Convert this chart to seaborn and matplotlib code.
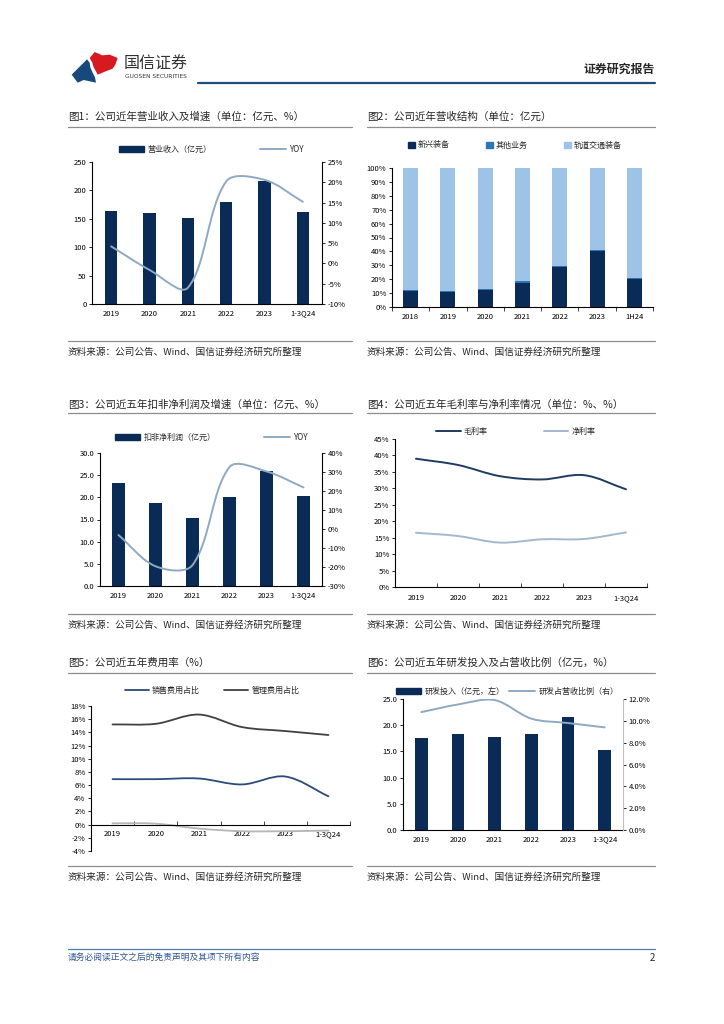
import numpy as np
import pandas as pd
import matplotlib
matplotlib.use("Agg")
import matplotlib.pyplot as plt
import seaborn as sns
from matplotlib.path import Path
from matplotlib.patches import PathPatch, Polygon, Patch
from matplotlib.lines import Line2D
from matplotlib.ticker import FuncFormatter


# 数据

years = ["2019", "2020", "2021", "2022", "2023", "1-3Q24"]

revenue = [163, 160, 151, 180, 217, 162]
revenue_yoy = [4.2, -1.6, -6.0, 20.2, 20.6, 15.2]

struct_years = ["2018", "2019", "2020", "2021", "2022", "2023", "1H24"]
struct_new = [11.5, 11.0, 12.0, 17.0, 28.5, 40.0, 20.5]
struct_other = [0.5, 0.7, 1.0, 1.5, 1.0, 1.0, 0.5]
struct_rail = [88.0, 88.3, 87.0, 81.5, 70.5, 59.0, 79.0]

profit = [23.3, 18.7, 15.3, 20.0, 26.0, 20.4]
profit_yoy = [-3.2, -19.6, -19.0, 32.6, 30.3, 21.9]

gross_margin = [39.0, 37.1, 33.7, 32.7, 34.0, 29.7]
net_margin = [16.5, 15.5, 13.5, 14.5, 14.6, 16.6]

sales_ratio = [6.9, 6.9, 7.0, 6.1, 7.3, 4.3]
admin_ratio = [15.2, 15.3, 16.7, 14.8, 14.2, 13.6]
fin_ratio = [0.2, 0.15, -0.6, -1.0, -1.0, -0.9]

rd = [17.5, 18.4, 17.7, 18.4, 21.5, 15.3]
rd_ratio = [10.8, 11.5, 11.9, 10.2, 9.8, 9.4]


# 样式

NAVY = "#0b2b57"
MID = "#2e75b6"
LIGHT = "#9dc3e6"
YOY = "#8fa9c3"
W, H = 724, 1024
FS_TICK = 5.5
FS_LEG = 5.8

sns.set_theme(style="white")
plt.rcParams["font.family"] = ["Noto Sans CJK SC", "DejaVu Sans"]
plt.rcParams["axes.unicode_minus"] = False


def box(l, t, r, b):
    return [l / W, 1 - b / H, (r - l) / W, (b - t) / H]


def smooth_line(ax, y, color, lw=1.4):
    # 平滑曲线 (贝塞尔, 按屏幕弦长缩放切线), 经过每个数据点
    pos = ax.get_position()
    x0, x1 = ax.get_xlim()
    y0, y1 = ax.get_ylim()
    sx = pos.width * W / (x1 - x0)
    sy = pos.height * H / (y1 - y0)
    p = np.column_stack([np.arange(len(y)), y]).astype(float)
    s = p * [sx, sy]
    ext = np.vstack([s[0], s, s[-1]])
    d = np.hypot(*np.diff(ext, axis=0).T)
    verts = [tuple(p[0])]
    codes = [Path.MOVETO]

    def tangent(i):
        return (ext[i + 2] - ext[i]), d[i], d[i + 1]

    for i in range(len(s) - 1):
        t1, a1, b1 = tangent(i)
        t2, a2, b2 = tangent(i + 1)
        seg = b1
        c1 = s[i] + t1 * seg / (a1 + b1) / 3
        c2 = s[i + 1] - t2 * seg / (a2 + b2) / 3
        verts += [tuple(c1 / [sx, sy]), tuple(c2 / [sx, sy]), tuple(p[i + 1])]
        codes += [Path.CURVE4] * 3
    ax.add_patch(PathPatch(Path(verts, codes), fill=False,
                           edgecolor=color, lw=lw, capstyle="round"))


def style(ax, spines=("left", "bottom")):
    for name, sp in ax.spines.items():
        sp.set_visible(name in spines)
        sp.set_color("black")
        sp.set_linewidth(0.8)
    ax.tick_params(labelsize=FS_TICK, length=2, width=0.6, pad=2,
                   left="left" in spines, right="right" in spines,
                   bottom=False, colors="black")
    ax.set_xlabel("")
    ax.set_ylabel("")


def pct(fmt):
    return FuncFormatter(lambda v, _: fmt % v + "%")


def boundary_ticks(ax, n, direction="out"):
    ax.set_xticks(np.arange(-0.5, n, 1), minor=True)
    ax.tick_params(axis="x", which="minor", bottom=True, length=3,
                   width=0.6, direction=direction)
    ax.tick_params(axis="x", which="major", length=0)


def legend(fig, handles, cx, cy, **kw):
    opts = dict(loc="center", ncol=len(handles), frameon=False,
                fontsize=FS_LEG, handlelength=3.2, handleheight=0.8,
                columnspacing=6, handletextpad=0.4, borderpad=0)
    opts.update(kw)
    fig.legend(handles=handles, bbox_to_anchor=(cx / W, 1 - cy / H), **opts)


BAR = dict(saturation=1, linewidth=0, edgecolor="none")

fig = plt.figure(figsize=(7.24, 10.24), dpi=100)

bg = fig.add_axes([0, 0, 1, 1], zorder=-5)
bg.set_xlim(0, W)
bg.set_ylim(H, 0)
bg.axis("off")


# 页眉 (logo)

def logo_pts(pts):
    return [(63 + zx / 3, 48 + zy / 3) for zx, zy in pts]


blue_shape = [(26, 80), (72, 34), (80, 44), (82, 58), (88, 72), (96, 88),
              (99, 104), (62, 96), (44, 104)]
red_shape = [(80, 30), (95, 12), (118, 22), (140, 20), (164, 30), (157, 50),
             (149, 62), (133, 68), (104, 80), (100, 72), (92, 58), (88, 44)]
bg.add_patch(Polygon(logo_pts(blue_shape), closed=True, color="#17497f", lw=0))
bg.add_patch(Polygon(logo_pts(red_shape), closed=True, color="#d71920", lw=0))
bg.text(124, 64, "国信证券", fontsize=11.5, color="#333333", va="center")
bg.text(125, 77, "GUOSEN SECURITIES", fontsize=4.2, color="#333333",
        va="center", family="DejaVu Sans")
bg.text(655, 69, "证券研究报告", fontsize=8.6, fontweight="bold", ha="right", va="center")
bg.plot([198, 655], [83, 83], color="#1f4e79", lw=1.6)


# 标题与来源

titles = [
    (68, 117, 352, 127, "图1：公司近年营业收入及增速（单位：亿元、%）"),
    (367, 117, 655, 127, "图2：公司近年营收结构（单位：亿元）"),
    (68, 405, 352, 413, "图3：公司近五年扣非净利润及增速（单位：亿元、%）"),
    (367, 405, 655, 413, "图4：公司近五年毛利率与净利率情况（单位：%、%）"),
    (68, 663, 352, 673, "图5：公司近五年费用率（%）"),
    (367, 663, 655, 673, "图6：公司近五年研发投入及占营收比例（亿元，%）"),
]
for l, ty, r, ly, txt in titles:
    bg.text(l, ty, txt, fontsize=7.6, va="center")
    bg.plot([l, r], [ly, ly], color="#8c8c8c", lw=0.9)

source = "资料来源：公司公告、Wind、国信证券经济研究所整理"
for ly, ty in [(341, 352), (614, 625), (866, 877)]:
    for l, r in [(68, 352), (367, 655)]:
        bg.plot([l, r], [ly, ly], color="#8c8c8c", lw=0.9)
        bg.text(l, ty, source, fontsize=6.9, va="center")


# 图1

ax = fig.add_axes(box(92, 162, 322, 304))
sns.barplot(x=years, y=revenue, color=NAVY, width=0.33, ax=ax, **BAR)
ax.set_xlim(-0.5, 5.5)
ax.set_ylim(0, 250)
ax.set_yticks(np.arange(0, 251, 50))
style(ax)
ax.tick_params(axis="x", length=0, pad=4)
ax2 = ax.twinx()
ax2.set_ylim(-10, 25)
smooth_line(ax2, revenue_yoy, YOY)
ax2.set_yticks(np.arange(-10, 26, 5))
ax2.yaxis.set_major_formatter(pct("%d"))
style(ax2, spines=("right",))
legend(fig, [Patch(color=NAVY, label="营业收入（亿元）"),
             Line2D([], [], color=YOY, lw=1.4, label="YOY")], 211, 149)


# 图2

ax = fig.add_axes(box(392, 168, 653, 307))
top_rail = np.array(struct_new) + np.array(struct_other) + np.array(struct_rail)
top_other = np.array(struct_new) + np.array(struct_other)
sns.barplot(x=struct_years, y=top_rail, color=LIGHT, width=0.4, ax=ax, **BAR)
sns.barplot(x=struct_years, y=top_other, color=MID, width=0.4, ax=ax, **BAR)
sns.barplot(x=struct_years, y=struct_new, color=NAVY, width=0.4, ax=ax, **BAR)
ax.set_xlim(-0.5, 6.5)
ax.set_ylim(0, 100)
ax.set_yticks(np.arange(0, 101, 10))
ax.yaxis.set_major_formatter(pct("%d"))
style(ax)
boundary_ticks(ax, 7)
ax.tick_params(axis="x", which="major", pad=4)
legend(fig, [Patch(color=NAVY, label="新兴装备"),
             Patch(color=MID, label="其他业务"),
             Patch(color=LIGHT, label="轨道交通装备")], 515, 145,
       handlelength=0.8, handleheight=0.8, columnspacing=4.5)


# 图3

ax = fig.add_axes(box(100, 453, 322, 586))
sns.barplot(x=years, y=profit, color=NAVY, width=0.33, ax=ax, **BAR)
ax.set_xlim(-0.5, 5.5)
ax.set_ylim(0, 30)
ax.set_yticks(np.arange(0, 31, 5))
ax.yaxis.set_major_formatter(FuncFormatter(lambda v, _: "%.1f" % v))
style(ax)
ax.tick_params(axis="x", length=0, pad=4)
ax2 = ax.twinx()
ax2.set_ylim(-30, 40)
smooth_line(ax2, profit_yoy, YOY)
ax2.set_yticks(np.arange(-30, 41, 10))
ax2.yaxis.set_major_formatter(pct("%d"))
style(ax2, spines=("right",))
legend(fig, [Patch(color=NAVY, label="扣非净利润（亿元）"),
             Line2D([], [], color=YOY, lw=1.4, label="YOY")], 211, 437)


# 图4

ax = fig.add_axes(box(395, 439, 647, 587))
ax.set_xlim(-0.5, 5.5)
ax.set_ylim(0, 45)
smooth_line(ax, gross_margin, "#1f3a63", lw=1.4)
smooth_line(ax, net_margin, "#a4b7cc", lw=1.4)
ax.set_xticks(np.arange(len(years)))
ax.set_xticklabels(years)
ax.set_yticks(np.arange(0, 46, 5))
ax.yaxis.set_major_formatter(pct("%d"))
style(ax)
boundary_ticks(ax, 6, direction="in")
ax.tick_params(axis="x", which="major", pad=5)
legend(fig, [Line2D([], [], color="#1f3a63", lw=1.4, label="毛利率"),
             Line2D([], [], color="#a4b7cc", lw=1.4, label="净利率")], 516, 431,
       handlelength=3, columnspacing=7)


# 图5

ax = fig.add_axes(box(91, 706, 350, 851))
ax.set_xlim(-0.5, 5.5)
ax.set_ylim(-4, 18)
smooth_line(ax, sales_ratio, "#2c4a7a", lw=1.3)
smooth_line(ax, admin_ratio, "#404040", lw=1.3)
smooth_line(ax, fin_ratio, "#b5b5b5", lw=1.3)
ax.set_xticks(np.arange(len(years)))
ax.set_xticklabels(years)
ax.set_yticks(np.arange(-4, 19, 2))
ax.yaxis.set_major_formatter(pct("%d"))
style(ax)
ax.spines["bottom"].set_position(("data", 0))
boundary_ticks(ax, 6, direction="in")
ax.tick_params(axis="x", which="major", pad=4)
legend(fig, [Line2D([], [], color="#2c4a7a", lw=1.3, label="销售费用占比"),
             Line2D([], [], color="#404040", lw=1.3, label="管理费用占比")], 212, 690,
       handlelength=3, columnspacing=3)


# 图6

ax = fig.add_axes(box(403, 699, 623, 830))
sns.barplot(x=years, y=rd, color=NAVY, width=0.34, ax=ax, **BAR)
ax.set_xlim(-0.5, 5.5)
ax.set_ylim(0, 25)
ax.set_yticks(np.arange(0, 26, 5))
ax.yaxis.set_major_formatter(FuncFormatter(lambda v, _: "%.1f" % v))
style(ax)
ax.tick_params(axis="x", length=0, pad=4)
ax2 = ax.twinx()
ax2.set_ylim(0, 12)
smooth_line(ax2, rd_ratio, YOY)
ax2.set_yticks(np.arange(0, 13, 2))
ax2.yaxis.set_major_formatter(pct("%.1f"))
style(ax2, spines=("right",))
ax2.spines["right"].set_color("#bfbfbf")
legend(fig, [Patch(color=NAVY, label="研发投入（亿元，左）"),
             Line2D([], [], color=YOY, lw=1.4, label="研发占营收比例（右）")], 507, 691,
       columnspacing=0.6)


# 页脚

bg.plot([68, 655], [949, 949], color="#4f7ca8", lw=0.9)
bg.text(68, 957, "请务必阅读正文之后的免责声明及其项下所有内容", fontsize=6.3,
        color="#2f5597", style="italic", va="center")
bg.text(655, 958, "2", fontsize=7, ha="right", va="center")

fig.savefig("out.png", dpi=100)
